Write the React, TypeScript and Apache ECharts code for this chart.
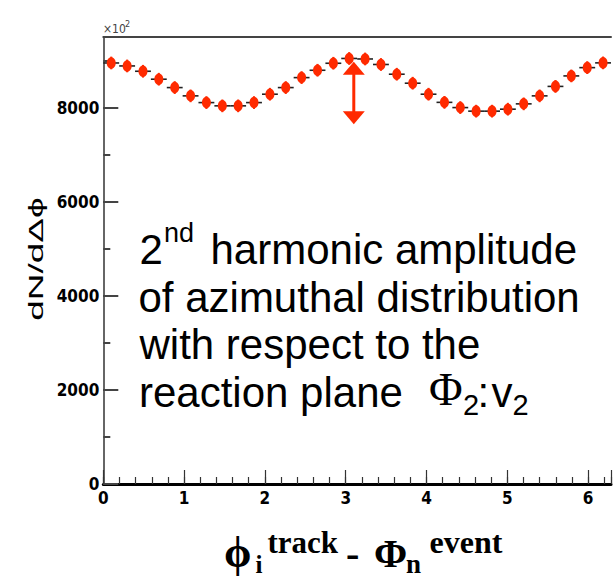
import React, { useEffect, useRef } from "react";
import * as echarts from "echarts";

// ---- data ----
const binCenters = [
  0.098, 0.295, 0.491, 0.687, 0.884, 1.08, 1.276, 1.473, 1.669, 1.865, 2.062,
  2.258, 2.454, 2.651, 2.847, 3.043, 3.24, 3.436, 3.632, 3.829, 4.025, 4.222,
  4.418, 4.614, 4.811, 5.007, 5.203, 5.4, 5.596, 5.792, 5.989, 6.185,
];
const binWidth = 0.19635;
const counts = [
  8948, 8885, 8772, 8603, 8425, 8249, 8106, 8037, 8037, 8106, 8284, 8425, 8637,
  8793, 8942, 9044, 9033, 8916, 8709, 8518, 8284, 8111, 8000, 7924, 7924, 7966,
  8079, 8249, 8450, 8673, 8849, 8950,
];
const errors = [
  135, 135, 135, 135, 135, 135, 135, 135, 135, 135, 135, 135, 135, 135, 135,
  135, 135, 135, 135, 135, 135, 135, 135, 135, 135, 135, 135, 135, 135, 135,
  135, 135,
];
// double-headed arrow marking the amplitude
const arrowPhi = [3.1];
const arrowTop = [8976];
const arrowBottom = [7648];

const xMin = 0;
const xMax = 2 * Math.PI;
const yMin = 0;
const yMax = 9500;

const RED = "#ff2a00";
const SANS = '"Liberation Sans", Arial, Helvetica, sans-serif';
const SERIF = '"Liberation Serif", "Times New Roman", serif';
const NARROW = '"Liberation Sans Narrow", "Arial Narrow", "DejaVu Sans Condensed", sans-serif';

type Frag = { t: string; x: number; base: number; size: number; fam: string; bold?: boolean; fill?: string };

function fragText(f: Frag) {
  const central = f.fam === SERIF ? 0.3375 : 0.3465;
  return {
    type: "text",
    x: f.x,
    y: f.base - central * f.size,
    silent: true,
    style: {
      text: f.t,
      font: `${f.bold ? "bold " : ""}${f.size}px ${f.fam}`,
      fill: f.fill || "#000",
      align: "left",
      verticalAlign: "middle",
      textAlign: "left",
      textVerticalAlign: "middle",
    },
  };
}

const annotation: Frag[] = [
  { t: "2", x: 139.5, base: 264.3, size: 42, fam: SANS },
  { t: "nd", x: 164, base: 242, size: 27, fam: SANS },
  { t: "harmonic amplitude", x: 210.5, base: 264.3, size: 42, fam: SANS },
  { t: "of azimuthal distribution", x: 138.5, base: 311.7, size: 42, fam: SANS },
  { t: "with respect to the", x: 139.5, base: 359.2, size: 42, fam: SANS },
  { t: "reaction plane", x: 139, base: 406.7, size: 42, fam: SANS },
  { t: "Φ", x: 429, base: 405, size: 46, fam: SERIF },
  { t: "2", x: 463, base: 415, size: 29, fam: SANS },
  { t: ":", x: 477.5, base: 406.7, size: 42, fam: SANS },
  { t: "v", x: 491.5, base: 406.7, size: 42, fam: SANS },
  { t: "2", x: 512.5, base: 415, size: 29, fam: SANS },
];

const xTitle: Frag[] = [
  { t: "ϕ", x: 224, base: 567, size: 44, fam: SERIF, bold: true },
  { t: "i", x: 255.5, base: 573, size: 25, fam: SERIF, bold: true },
  { t: "track", x: 267.5, base: 553, size: 31, fam: SERIF, bold: true },
  { t: "-", x: 346, base: 567, size: 40, fam: SERIF, bold: true },
  { t: "Φ", x: 374, base: 567, size: 40, fam: SERIF, bold: true },
  { t: "n", x: 406, base: 573, size: 27, fam: SERIF, bold: true },
  { t: "event", x: 429.5, base: 553, size: 32, fam: SERIF, bold: true },
];

const exponent: Frag[] = [
  { t: "×10", x: 103, base: 33.3, size: 12, fam: NARROW, fill: "#444" },
  { t: "2", x: 125, base: 27.5, size: 9, fam: NARROW, fill: "#444" },
];

export default function App() {
  const ref = useRef<HTMLDivElement>(null);

  useEffect(() => {
    document.body.style.margin = "0";
    if (!ref.current) return;
    const chart = echarts.init(ref.current, undefined, { renderer: "svg" });

    const histData = binCenters.map((x, i) => [x, counts[i], errors[i]]);
    const arrowData = arrowPhi.map((x, i) => [x, arrowTop[i], arrowBottom[i]]);

    const option: any = {
      animation: false,
      backgroundColor: "#fff",
      grid: { left: 103.3, top: 37, width: (xMax - xMin) * 83.33, height: 447, containLabel: false },
      xAxis: [
        {
          type: "value",
          position: "bottom",
          min: xMin,
          max: xMax,
          interval: 1,
          axisLine: { show: true, onZero: false, lineStyle: { color: "#000", width: 3 } },
          axisTick: { show: true, inside: true, length: 14, lineStyle: { color: "#333", width: 1.2 } },
          axisLabel: {
            margin: 5,
            fontFamily: NARROW,
            fontWeight: "bold",
            fontSize: 17,
            color: "#000",
            formatter: (v: number) => (Math.abs(v - Math.round(v)) < 1e-9 ? String(Math.round(v)) : ""),
          },
          splitLine: { show: false },
        },
        {
          type: "value",
          position: "bottom",
          min: xMin,
          max: xMax,
          interval: 0.2,
          axisLine: { show: false, onZero: false },
          axisTick: { show: true, inside: true, length: 7, lineStyle: { color: "#333", width: 1.2 } },
          axisLabel: { show: false },
          splitLine: { show: false },
        },
        {
          type: "value",
          position: "top",
          min: xMin,
          max: xMax,
          axisLine: { show: true, onZero: false, lineStyle: { color: "#444", width: 2 } },
          axisTick: { show: false },
          axisLabel: { show: false },
          splitLine: { show: false },
        },
      ],
      yAxis: [
        {
          type: "value",
          position: "left",
          min: yMin,
          max: yMax,
          interval: 2000,
          axisLine: { show: true, onZero: false, lineStyle: { color: "#666", width: 2 } },
          axisTick: { show: true, inside: true, length: 15, lineStyle: { color: "#444", width: 2 } },
          axisLabel: {
            margin: 4,
            fontFamily: NARROW,
            fontWeight: "bold",
            fontSize: 17,
            color: "#000",
            formatter: (v: number) => (v % 2000 === 0 ? String(v) : ""),
          },
          splitLine: { show: false },
        },
        {
          type: "value",
          position: "left",
          min: yMin,
          max: yMax,
          interval: 1000,
          axisLine: { show: false, onZero: false },
          axisTick: { show: true, inside: true, length: 7, lineStyle: { color: "#444", width: 2 } },
          axisLabel: { show: false },
          splitLine: { show: false },
        },
      ],
      series: [
        {
          type: "custom",
          xAxisIndex: 0,
          yAxisIndex: 0,
          clip: false,
          data: histData,
          renderItem: (params: any, api: any) => {
            const x = api.value(0);
            const y = api.value(1);
            const e = api.value(2);
            const p = api.coord([x, y]);
            const l = api.coord([x - binWidth / 2, y]);
            const r = api.coord([x + binWidth / 2, y]);
            const t = api.coord([x, y + e]);
            const b = api.coord([x, y - e]);
            return {
              type: "group",
              children: [
                { type: "line", shape: { x1: l[0], y1: l[1], x2: r[0], y2: r[1] }, style: { stroke: "#222", lineWidth: 1.6 } },
                { type: "line", shape: { x1: p[0], y1: t[1], x2: p[0], y2: b[1] }, style: { stroke: RED, lineWidth: 2 } },
                { type: "ellipse", shape: { cx: p[0], cy: p[1], rx: 4.5, ry: 5.8 }, style: { fill: RED } },
              ],
            };
          },
        },
        {
          type: "custom",
          xAxisIndex: 0,
          yAxisIndex: 0,
          clip: false,
          data: arrowData,
          renderItem: (params: any, api: any) => {
            const x = api.value(0);
            const top = api.coord([x, api.value(1)]);
            const bot = api.coord([x, api.value(2)]);
            const hh = 13;
            const hw = 11;
            const cx = top[0];
            return {
              type: "group",
              children: [
                { type: "line", shape: { x1: cx, y1: top[1] + hh - 1, x2: cx, y2: bot[1] - hh + 1 }, style: { stroke: RED, lineWidth: 3 } },
                { type: "polygon", shape: { points: [[cx, top[1]], [cx - hw, top[1] + hh], [cx + hw, top[1] + hh]] }, style: { fill: RED } },
                { type: "polygon", shape: { points: [[cx, bot[1]], [cx - hw, bot[1] - hh], [cx + hw, bot[1] - hh]] }, style: { fill: RED } },
              ],
            };
          },
        },
      ],
      graphic: [
        ...annotation.map(fragText),
        ...xTitle.map(fragText),
        ...exponent.map(fragText),
        {
          type: "text",
          x: 36,
          y: 259,
          rotation: Math.PI / 2,
          scaleX: 1.85,
          silent: true,
          style: {
            text: "dN/dΔϕ",
            font: `20px ${SANS}`,
            fill: "#000",
            align: "center",
            verticalAlign: "middle",
            textAlign: "center",
            textVerticalAlign: "middle",
          },
        },
      ],
    };

    chart.setOption(option);
    return () => chart.dispose();
  }, []);

  return <div ref={ref} style={{ width: 614, height: 576, overflow: "hidden" }} />;
}
